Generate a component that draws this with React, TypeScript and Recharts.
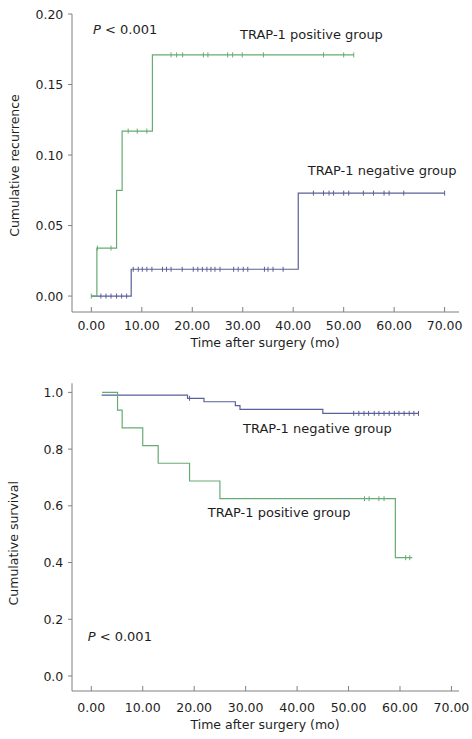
import React from 'react'
import { LineChart, Line, XAxis, YAxis, Customized } from 'recharts'

// [time (mo), value, censored]
const recPositive = [
  [0, 0, 1], [1.1, 0.034, 0], [1.2, 0.034, 1], [3.9, 0.034, 1], [5.0, 0.075, 0],
  [6.1, 0.117, 0], [7.3, 0.117, 1], [9.1, 0.117, 1], [11.0, 0.117, 1],
  [12.1, 0.171, 0], [15.8, 0.171, 1], [16.9, 0.171, 1], [18.1, 0.171, 1],
  [22.2, 0.171, 1], [23.1, 0.171, 1], [27.0, 0.171, 1], [28.0, 0.171, 1],
  [29.9, 0.171, 1], [34.1, 0.171, 1], [46.0, 0.171, 1], [50.0, 0.171, 1],
  [52.0, 0.171, 1],
]

const recNegative = [
  [0, 0, 0], [1.9, 0, 1], [2.9, 0, 1], [3.9, 0, 1], [5.0, 0, 1], [6.0, 0, 1],
  [7.0, 0, 1], [7.9, 0.019, 0], [8.3, 0.019, 1], [9.3, 0.019, 1],
  [10.1, 0.019, 1], [11.0, 0.019, 1], [12.0, 0.019, 1], [14.1, 0.019, 1],
  [14.9, 0.019, 1], [15.8, 0.019, 1], [18.0, 0.019, 1], [20.2, 0.019, 1],
  [21.1, 0.019, 1], [22.0, 0.019, 1], [22.9, 0.019, 1], [23.7, 0.019, 1],
  [24.5, 0.019, 1], [25.5, 0.019, 1], [28.2, 0.019, 1], [29.1, 0.019, 1],
  [30.1, 0.019, 1], [31.0, 0.019, 1], [34.3, 0.019, 1], [35.0, 0.019, 1],
  [36.0, 0.019, 1], [38.0, 0.019, 1], [41.0, 0.073, 0], [44.0, 0.073, 1],
  [46.0, 0.073, 1], [47.1, 0.073, 1], [48.0, 0.073, 1], [50.0, 0.073, 1],
  [51.0, 0.073, 1], [53.9, 0.073, 1], [55.9, 0.073, 1], [58.0, 0.073, 1],
  [59.0, 0.073, 1], [61.9, 0.073, 1], [70.0, 0.073, 1],
]

const survPositive = [
  [2.1, 1.0, 0], [5.1, 0.9375, 0], [6.0, 0.875, 0], [10.0, 0.8125, 0],
  [13.0, 0.75, 0], [19.1, 0.6875, 0], [25.0, 0.625, 0], [53.1, 0.625, 1],
  [54.0, 0.625, 1], [55.9, 0.625, 1], [56.9, 0.625, 1], [59.1, 0.417, 0],
  [61.1, 0.417, 1], [61.9, 0.417, 1], [62.4, 0.417, 0],
]

const survNegative = [
  [2.0, 0.99, 0], [18.7, 0.979, 0], [19.1, 0.979, 1], [21.9, 0.967, 0],
  [28.0, 0.953, 0], [28.9, 0.94, 0], [45.0, 0.926, 0], [51.0, 0.926, 1],
  [52.0, 0.926, 1], [53.0, 0.926, 1], [53.9, 0.926, 1], [55.0, 0.926, 1],
  [55.9, 0.926, 1], [56.9, 0.926, 1], [57.9, 0.926, 1], [58.9, 0.926, 1],
  [59.8, 0.926, 1], [60.8, 0.926, 1], [61.8, 0.926, 1], [62.7, 0.926, 1],
  [63.6, 0.926, 1],
]

const timeTicks = [0, 10, 20, 30, 40, 50, 60, 70]
const recTicks = [0, 0.05, 0.1, 0.15, 0.2]
const survTicks = [0, 0.2, 0.4, 0.6, 0.8, 1.0]

const GREEN = '#66ab74'
const BLUE = '#5a6098'
const AXIS = '#808080'
const TEXT = '#1e1e1e'
const FONT = '"DejaVu Sans", Verdana, sans-serif'
const AX_FS = 12.5
const NOTE_FS = 13

const toRows = (rows: number[][]) => rows.map(([t, v, c]) => ({ t, v, c }))

const censorDot = (color: string) => (props: any) => {
  const { cx, cy, payload, index } = props
  if (!payload || !payload.c || cx == null) return <g key={`d-${index}`} />
  return (
    <line
      key={`d-${index}`}
      x1={cx}
      x2={cx}
      y1={cy - 2.5}
      y2={cy + 2.5}
      stroke={color}
      strokeWidth={1}
    />
  )
}

const XTick = (offset: number) => (props: any) => {
  const { x, y, payload } = props
  return (
    <g>
      <line x1={x} x2={x} y1={y} y2={y - 5} stroke={AXIS} />
      <text x={x} y={y + offset} textAnchor='middle' fontSize={AX_FS} fontFamily={FONT} fill={TEXT}>
        {payload.value.toFixed(2)}
      </text>
    </g>
  )
}

const YTick = (digits: number) => (props: any) => {
  const { x, y, payload } = props
  return (
    <g>
      <line x1={x - 4} x2={x} y1={y} y2={y} stroke={AXIS} />
      <text x={x - 8.7} y={y + 4.6} textAnchor='end' fontSize={AX_FS} fontFamily={FONT} fill={TEXT}>
        {payload.value.toFixed(digits)}
      </text>
    </g>
  )
}

const note = (x: number, y: number, text: string) => (
  <text x={x} y={y} fontSize={NOTE_FS} fontFamily={FONT} fill={TEXT}>
    {text}
  </text>
)

const pNote = (x: number, y: number) => (
  <text x={x} y={y} fontSize={NOTE_FS} fontFamily={FONT} fill={TEXT}>
    <tspan fontStyle='italic'>P</tspan> {'< 0.001'}
  </text>
)

const yLabel = (cy: number, text: string) => (
  <text
    x={18.5}
    y={cy}
    textAnchor='middle'
    fontSize={AX_FS}
    fontFamily={FONT}
    fill={TEXT}
    transform={`rotate(-90, 18.5, ${cy})`}
  >
    {text}
  </text>
)

const xLabel = (y: number) => (
  <text x={265} y={y} textAnchor='middle' fontSize={AX_FS} fontFamily={FONT} fill={TEXT}>
    Time after surgery (mo)
  </text>
)

const RecurrenceChart = () => (
  <LineChart width={472} height={360} margin={{ top: 14, right: 13, bottom: 0, left: 0 }}>
    <XAxis
      type='number'
      dataKey='t'
      domain={[-3.83, 72.85]}
      ticks={timeTicks}
      allowDataOverflow
      height={48}
      tickSize={0}
      tickMargin={0}
      tickLine={false}
      axisLine={{ stroke: AXIS }}
      tick={XTick(17.6)}
    />
    <YAxis
      type='number'
      domain={[-0.0113, 0.2]}
      ticks={recTicks}
      allowDataOverflow
      width={72}
      tickSize={0}
      tickMargin={0}
      tickLine={false}
      axisLine={{ stroke: AXIS }}
      tick={YTick(2)}
    />
    <Line
      data={toRows(recNegative)}
      dataKey='v'
      type='stepAfter'
      stroke={BLUE}
      strokeWidth={1.2}
      dot={censorDot(BLUE)}
      activeDot={false}
      isAnimationActive={false}
    />
    <Line
      data={toRows(recPositive)}
      dataKey='v'
      type='stepAfter'
      stroke={GREEN}
      strokeWidth={1.2}
      dot={censorDot(GREEN)}
      activeDot={false}
      isAnimationActive={false}
    />
    <Customized
      component={() => (
        <g>
          {pNote(93, 33.5)}
          {note(240, 38.5, 'TRAP-1 positive group')}
          {note(307.7, 174.5, 'TRAP-1 negative group')}
          {yLabel(165.5, 'Cumulative recurrence')}
          {xLabel(347.4)}
        </g>
      )}
    />
  </LineChart>
)

const SurvivalChart = () => (
  <LineChart width={472} height={379} margin={{ top: 23.3, right: 13, bottom: 0, left: 0 }}>
    <XAxis
      type='number'
      dataKey='t'
      domain={[-3.75, 71.47]}
      ticks={timeTicks}
      allowDataOverflow
      height={48}
      tickSize={0}
      tickMargin={0}
      tickLine={false}
      axisLine={{ stroke: AXIS }}
      tick={XTick(21)}
    />
    <YAxis
      type='number'
      domain={[-0.053, 1.032]}
      ticks={survTicks}
      allowDataOverflow
      width={72}
      tickSize={0}
      tickMargin={0}
      tickLine={false}
      axisLine={{ stroke: AXIS }}
      tick={YTick(1)}
    />
    <Line
      data={toRows(survNegative)}
      dataKey='v'
      type='stepAfter'
      stroke={BLUE}
      strokeWidth={1.2}
      dot={censorDot(BLUE)}
      activeDot={false}
      isAnimationActive={false}
    />
    <Line
      data={toRows(survPositive)}
      dataKey='v'
      type='stepAfter'
      stroke={GREEN}
      strokeWidth={1.2}
      dot={censorDot(GREEN)}
      activeDot={false}
      isAnimationActive={false}
    />
    <Customized
      component={() => (
        <g>
          {note(243, 433 - 360, 'TRAP-1 negative group')}
          {note(207.7, 516.5 - 360, 'TRAP-1 positive group')}
          {pNote(87.7, 640.5 - 360)}
          {yLabel(543.3 - 360, 'Cumulative survival')}
          {xLabel(729.4 - 360)}
        </g>
      )}
    />
  </LineChart>
)

export default function App() {
  return (
    <div style={{ position: 'absolute', left: 0, top: 0, width: 472, height: 739, background: '#fff' }}>
      <div style={{ position: 'absolute', left: 0, top: 0 }}>
        <RecurrenceChart />
      </div>
      <div style={{ position: 'absolute', left: 0, top: 360 }}>
        <SurvivalChart />
      </div>
    </div>
  )
}
